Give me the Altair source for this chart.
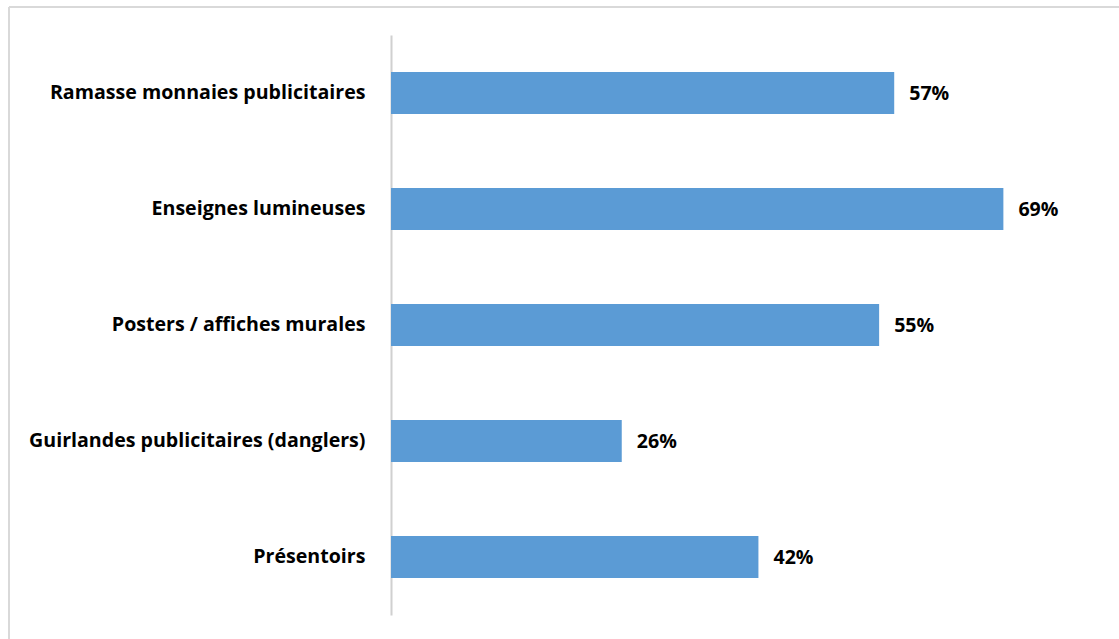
import altair as alt
import pandas as pd

categories = ["Ramasse monnaies publicitaires", "Enseignes lumineuses", "Posters / affiches murales",
              "Guirlandes publicitaires (danglers)", "Présentoirs"]
values = [56.7, 69, 55, 26, 41.4]
labels = ["57%", "69%", "55%", "26%", "42%"]

df = pd.DataFrame({"cat": categories, "val": values, "lab": labels})

FONT = "Open Sans"
y_enc = alt.Y("cat:N", sort=categories, title=None,
              scale=alt.Scale(paddingInner=0.64, paddingOuter=0.32),
              axis=alt.Axis(labelFont=FONT, labelFontSize=19.6, labelFontWeight="bold",
                            labelColor="#000000", labelPadding=26, ticks=False,
                            domainColor="#d0d0d0", domainWidth=2, labelLimit=400))
x_enc = alt.X("val:Q", scale=alt.Scale(domain=[0, 80]), axis=None)

bars = alt.Chart(df).mark_bar(color="#5B9BD5").encode(x=x_enc, y=y_enc)
text = alt.Chart(df).mark_text(align="left", dx=15, dy=1, font=FONT, fontSize=19.6,
                               fontWeight="bold", color="#000000").encode(
    x="val:Q", y=alt.Y("cat:N", sort=categories), text="lab:N")

border_top = alt.Chart(df).mark_rule(color="#d9d9d9", strokeWidth=1.5).encode(
    x=alt.value(-382), x2=alt.value(740), y=alt.value(-28))
border_left = alt.Chart(df).mark_rule(color="#d9d9d9", strokeWidth=1.5).encode(
    x=alt.value(-382), y=alt.value(-28), y2=alt.value(620))

chart = alt.layer(border_top, border_left, bars, text).properties(
    width=710, height=580,
    background="white",
    autosize=alt.AutoSizeParams(type="none"),
    padding={"left": 391, "top": 35, "right": 18, "bottom": 24},
).configure_view(stroke="transparent", strokeWidth=0)

chart.save("out.html", embed_options={"renderer": "svg", "actions": False})
